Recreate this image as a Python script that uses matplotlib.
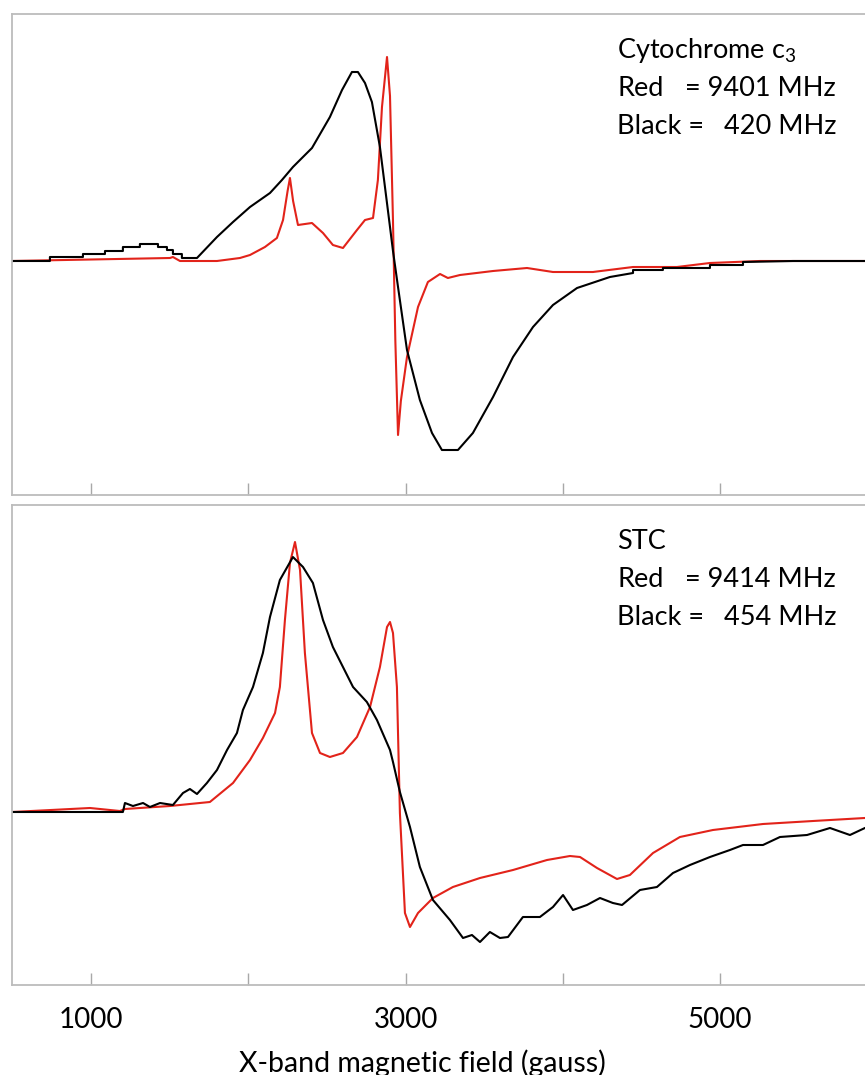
import numpy as np
import matplotlib
matplotlib.use('Agg')
import matplotlib.pyplot as plt

plt.rcParams['font.family'] = ['Lato', 'DejaVu Sans']

# field in gauss, signal in arbitrary units (baseline = 0)
cyt_red_field = [498, 1502, 1521, 1566, 1801, 1947, 2011, 2106, 2182, 2221, 2250, 2265, 2285,
                 2316, 2405, 2475, 2538, 2602, 2691, 2742, 2793, 2824, 2850, 2882, 2901, 2920,
                 2935, 2952, 2970, 3009, 3079, 3142, 3219, 3269, 3346, 3556, 3772, 3937, 4191,
                 4446, 4725, 4935, 5253, 6016]
cyt_red_signal = [0, 3, 4, 0, 0, 3, 6, 14, 23, 41, 70, 83, 60,
                  36, 38, 28, 16, 13, 31, 41, 43, 81, 154, 204, 165, 40,
                  -80, -174, -140, -96, -46, -21, -13, -17, -14, -10, -7, -11, -11,
                  -6, -6, -2, 0, 0]

cyt_black_field = [498, 739, 739, 949, 949, 1089, 1089, 1203, 1203, 1311, 1311, 1426, 1426,
                   1483, 1483, 1521, 1521, 1578, 1578, 1674, 1801, 1903, 2011, 2138, 2214,
                   2284, 2405, 2519, 2596, 2659, 2697, 2742, 2786, 2837, 2901, 2920, 2952,
                   3009, 3091, 3168, 3231, 3333, 3428, 3556, 3683, 3810, 3937, 4090, 4299,
                   4446, 4446, 4636, 4636, 4935, 4935, 5145, 5145, 5463, 6016]
cyt_black_signal = [0, 0, 4, 4, 7, 7, 10, 10, 14, 14, 17, 17, 14,
                    14, 11, 11, 7, 7, 3, 3, 24, 39, 54, 68, 81,
                    94, 113, 144, 171, 189, 189, 178, 159, 114, 34, 10, -26,
                    -89, -139, -172, -189, -189, -172, -136, -96, -66, -44, -27, -16,
                    -12, -9, -9, -7, -7, -4, -4, -1, 0, 0]

stc_red_field = [498, 994, 1184, 1216, 1502, 1756, 1903, 2011, 2093, 2170, 2201, 2233, 2265,
                 2297, 2329, 2360, 2405, 2456, 2519, 2602, 2691, 2774, 2837, 2882, 2901, 2920,
                 2945, 2964, 2996, 3028, 3079, 3174, 3301, 3473, 3683, 3899, 4045, 4109, 4217,
                 4344, 4426, 4573, 4744, 4954, 5272, 5590, 5920, 6016]
stc_red_signal = [0, 4, 1, 3, 6, 10, 29, 52, 74, 99, 125, 192, 249,
                  270, 242, 159, 79, 59, 55, 59, 75, 105, 145, 185, 190, 179,
                  125, -1, -101, -115, -101, -86, -75, -66, -58, -48, -44, -45, -56,
                  -67, -63, -41, -25, -18, -12, -9, -6, -6]

stc_black_field = [498, 1203, 1216, 1267, 1331, 1375, 1439, 1521, 1585, 1629, 1674, 1737, 1801,
                   1865, 1928, 1966, 2030, 2093, 2138, 2201, 2284, 2348, 2411, 2475, 2538, 2602,
                   2666, 2754, 2818, 2901, 2920, 2964, 3028, 3091, 3174, 3282, 3365, 3422, 3473,
                   3536, 3600, 3651, 3746, 3854, 3937, 4001, 4064, 4153, 4236, 4318, 4376, 4490,
                   4598, 4700, 4808, 4935, 5062, 5145, 5272, 5380, 5552, 5698, 5825, 5920, 6016]
stc_black_signal = [0, 0, 9, 6, 9, 5, 9, 7, 19, 23, 18, 29, 42,
                    62, 79, 102, 125, 159, 195, 232, 255, 245, 229, 192, 165, 145,
                    125, 110, 92, 62, 50, 20, -15, -55, -88, -108, -126, -123, -130,
                    -120, -126, -125, -105, -105, -95, -83, -98, -93, -86, -91, -93, -78,
                    -75, -61, -53, -45, -38, -33, -33, -25, -23, -16, -23, -16, -14]

tick_pos = [1000, 2000, 3000, 4000, 5000]
tick_labels = ['1000', '', '3000', '', '5000']

panels = [
    (cyt_red_field, cyt_red_signal, cyt_black_field, cyt_black_signal,
     'Cytochrome c$_\\mathregular{3}$', '9401 MHz', '420 MHz', (-234, 247)),
    (stc_red_field, stc_red_signal, stc_black_field, stc_black_signal,
     'STC', '9414 MHz', '454 MHz', (-173, 307)),
]

W, H = 865, 1075
fig = plt.figure(figsize=(W / 100, H / 100), dpi=100)
boxes = [(14, 495), (505, 985)]
red = '#e2231a'
grey = '#bcbcbc'
fs = 19.5

for i, (rf, rs, bf, bs, title, rtxt, btxt, ylim) in enumerate(panels):
    top, bot = boxes[i]
    ax = fig.add_axes([12 / W, 1 - bot / H, 868 / W, (bot - top) / H])
    ax.plot(rf, rs, color=red, lw=1.5)
    ax.plot(bf, bs, color='black', lw=1.5)
    ax.set_xlim(498, 6016)
    ax.set_ylim(*ylim)
    ax.set_yticks([])
    ax.set_xticks(tick_pos)
    ax.tick_params(axis='x', direction='in', length=9, width=1, color='#a8a8a8',
                   labelsize=20, pad=16)
    if i == 1:
        ax.set_xticklabels(tick_labels)
    else:
        ax.set_xticklabels([])
    for s in ax.spines.values():
        s.set_color(grey)
        s.set_linewidth(1.3)

    y0 = 1 - (top + 44) / H
    dy = 38 / H
    fig.text(617 / W, y0, title, fontsize=fs, va='baseline')
    fig.text(617 / W, y0 - dy, 'Red', fontsize=fs, va='baseline')
    fig.text(836 / W, y0 - dy, '= ' + rtxt, fontsize=fs, va='baseline', ha='right')
    fig.text(617 / W, y0 - 2 * dy, 'Black =', fontsize=fs, va='baseline')
    fig.text(836 / W, y0 - 2 * dy, btxt, fontsize=fs, va='baseline', ha='right')

fig.text(422 / W, 1 - 1072 / H, 'X-band magnetic field (gauss)', fontsize=20.5,
         ha='center', va='baseline')

fig.savefig('out.png', dpi=100)
